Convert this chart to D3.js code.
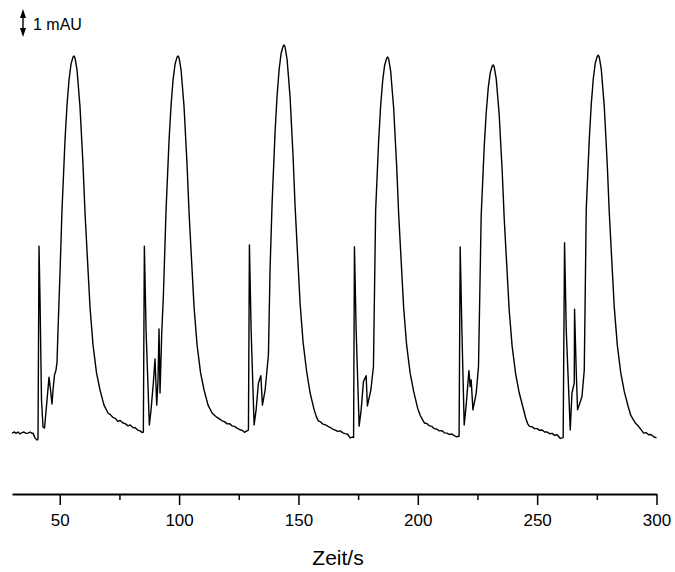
<!DOCTYPE html>
<html>
<head>
<meta charset="utf-8">
<script src="https://cdn.jsdelivr.net/npm/d3@7"></script>
<style>
  body { margin: 0; background: #fff; }
  svg text { font-family: "Liberation Sans", Arial, sans-serif; fill: #000; }
</style>
</head>
<body>
<div class="chart"></div>
<script>
const W = 675, H = 572;

// x axis ticks (s)
const major_ticks = [50, 100, 150, 200, 250, 300];
const minor_ticks = [75, 125, 175, 225, 275];

// detector signal, [time in s, absorbance in mAU], one array per injection
const run1 = [
  [30.0, -0.04], [31.0, 0.0], [31.7, -0.05], [32.5, 0.0], [33.4, -0.07], [34.2, -0.02], [35.0, 0.0],
  [35.9, -0.05], [36.7, -0.04], [37.6, 0.0], [38.4, -0.05], [38.8, -0.04], [39.6, -0.21], [40.5, -0.29],
  [40.9, -0.25], [41.32, 6.64], [41.74, 4.71], [42.36, 1.14], [42.99, 0.18], [43.62, 0.14], [44.67, 1.14],
  [45.51, 1.96], [46.14, 1.5], [46.76, 1.0], [47.18, 1.5], [47.81, 2.04], [48.44, 2.21], [48.86, 2.5],
  [49.28, 3.64], [50.11, 5.68], [50.95, 7.93], [52.21, 10.43], [53.05, 11.68], [53.88, 12.57],
  [54.72, 13.14], [55.56, 13.39], [55.98, 13.43], [56.40, 13.36], [57.24, 12.93], [58.49, 11.61],
  [59.75, 9.54], [60.59, 7.82], [61.85, 5.79], [62.68, 4.46], [63.94, 3.11], [65.41, 2.11], [66.87, 1.5],
  [68.55, 0.96], [70.23, 0.68], [71.2, 0.62], [72.3, 0.52], [73.2, 0.49], [74.3, 0.38], [75.3, 0.41],
  [76.5, 0.32], [77.4, 0.3], [78.6, 0.22], [79.5, 0.25], [80.7, 0.16], [81.6, 0.15], [82.8, 0.06],
  [83.7, 0.04], [84.5, -0.02], [85.03, 0.0]
];
const run2 = [
  [85.45, 6.64], [86.16, 3.64], [87.54, 0.25], [88.25, 0.79], [89.21, 1.75], [89.92, 2.61], [90.63, 0.96],
  [91.17, 1.86], [91.59, 3.68], [92.01, 1.39], [92.73, 3.54], [93.40, 4.82], [94.54, 7.93], [95.80, 10.43],
  [96.64, 11.68], [97.47, 12.57], [98.31, 13.14], [99.15, 13.39], [99.57, 13.43], [99.99, 13.36],
  [100.83, 12.93], [102.08, 11.61], [103.34, 9.54], [104.18, 7.82], [105.44, 5.79], [106.27, 4.46],
  [107.53, 3.11], [109.00, 2.11], [110.46, 1.5], [112.14, 0.96], [113.82, 0.68], [114.8, 0.6],
  [115.9, 0.52], [116.9, 0.47], [118.0, 0.4], [119.0, 0.37], [120.1, 0.29], [121.1, 0.3], [122.2, 0.22],
  [123.2, 0.2], [124.3, 0.14], [125.3, 0.09], [126.4, 0.06], [127.4, -0.01], [128.2, 0.03], [129.05, 0.07]
];
const run3 = [
  [129.46, 6.68], [130.17, 3.64], [131.43, 0.25], [132.27, 0.79], [133.23, 1.75], [134.24, 2.01],
  [134.91, 0.96], [136.04, 1.5], [137.42, 2.75], [138.12, 5.85], [138.96, 8.16], [140.22, 10.73],
  [141.06, 12.02], [141.89, 12.93], [142.73, 13.52], [143.57, 13.78], [143.99, 13.82], [144.41, 13.75],
  [145.25, 13.30], [146.50, 11.95], [147.76, 9.82], [148.60, 8.05], [149.86, 5.96], [150.69, 4.59],
  [151.95, 3.2], [153.42, 2.17], [154.88, 1.4], [156.56, 0.8], [157.5, 0.55], [158.3, 0.4], [159.3, 0.36],
  [160.3, 0.28], [161.3, 0.26], [162.4, 0.2], [163.4, 0.16], [164.4, 0.1], [165.4, 0.07], [166.5, 0.02],
  [167.5, 0.04], [168.6, -0.03], [169.6, -0.06], [170.6, -0.08], [171.66, -0.21], [172.6, -0.18], [173.1, -0.2]
];
const run4 = [
  [173.46, 6.62], [174.17, 3.64], [175.43, 0.21], [176.27, 0.79], [177.23, 1.8], [178.36, 2.01],
  [178.90, 0.93], [180.33, 1.5], [181.42, 2.33], [182.34, 7.9], [183.60, 10.4], [184.44, 11.65],
  [185.27, 12.53], [186.11, 13.1], [186.95, 13.35], [187.37, 13.39], [187.79, 13.32], [188.63, 12.89],
  [189.88, 11.58], [191.14, 9.51], [191.98, 7.8], [193.24, 5.77], [194.07, 4.45], [195.33, 3.1],
  [196.80, 2.1], [198.26, 1.45], [199.94, 0.85], [201.0, 0.6], [201.9, 0.45], [202.8, 0.32], [203.8, 0.3],
  [204.8, 0.22], [205.9, 0.2], [206.9, 0.12], [208.0, 0.1], [209.0, 0.04], [210.1, 0.05], [211.1, -0.03],
  [212.2, -0.04], [213.2, -0.09], [214.3, -0.07], [214.95, -0.11], [216.09, -0.17], [217.3, -0.15]
];
const run5 = [
  [217.76, 6.61], [218.47, 3.64], [219.44, 0.25], [220.27, 0.96], [221.41, 2.19], [221.95, 1.62],
  [222.37, 1.86], [223.09, 0.79], [224.47, 1.39], [225.43, 2.33], [226.56, 7.74], [227.82, 10.18],
  [228.66, 11.4], [229.49, 12.27], [230.33, 12.82], [231.17, 13.07], [231.59, 13.11], [232.01, 13.04],
  [232.85, 12.62], [234.10, 11.33], [235.36, 9.31], [236.20, 7.63], [237.46, 5.65], [238.29, 4.35],
  [239.55, 3.04], [241.02, 2.06], [242.48, 1.4], [244.16, 0.85], [245.2, 0.5], [246.0, 0.3], [246.8, 0.2],
  [247.9, 0.19], [248.9, 0.12], [250.0, 0.12], [251.0, 0.06], [252.1, 0.07], [253.1, 0.0], [254.2, 0.0],
  [255.2, -0.06], [256.3, -0.05], [257.3, -0.12], [258.4, -0.1], [259.7, -0.23], [260.9, -0.2]
];
const run6 = [
  [261.48, 6.76], [262.19, 3.64], [263.87, 0.07], [264.58, 1.39], [265.54, 1.75], [265.67, 4.39],
  [266.38, 2.15], [266.93, 0.79], [268.77, 1.26], [269.74, 2.21], [270.57, 7.95], [271.83, 10.45],
  [272.67, 11.7], [273.50, 12.6], [274.34, 13.17], [275.18, 13.42], [275.60, 13.46], [276.02, 13.39],
  [276.86, 12.96], [278.11, 11.64], [279.37, 9.56], [280.21, 7.84], [281.47, 5.8], [282.30, 4.47],
  [283.56, 3.12], [285.03, 2.11], [286.49, 1.45], [288.17, 0.9], [289.2, 0.6], [290.2, 0.45],
  [291.3, 0.3], [292.3, 0.22], [293.4, 0.1], [294.6, -0.04], [295.6, -0.02], [296.7, -0.1],
  [297.7, -0.09], [298.8, -0.17], [300.0, -0.21]
];

const signal = run1.concat(run2, run3, run4, run5, run6);

const svg = d3.select('.chart')
    .append('svg')
    .attr('width', W)
    .attr('height', H);

// 1 mAU = 28 px
const x_scale = d3.scaleLinear().domain([30, 300]).range([12, 656.5]);
const y_scale = d3.scaleLinear().domain([0, 1]).range([432, 404]);

const axis_y = 494;

// minor ticks first, then major axis
svg.append("g")
    .attr("transform", "translate(0," + axis_y + ")")
    .call(d3.axisBottom(x_scale)
        .tickValues(minor_ticks)
        .tickSize(6)
        .tickFormat(""))
    .call(g => g.select(".domain").remove());

const x_axis = svg.append("g")
    .attr("class", "x_axis")
    .attr("transform", "translate(0," + axis_y + ")")
    .call(d3.axisBottom(x_scale)
        .tickValues(major_ticks)
        .tickSize(11)
        .tickSizeOuter(0)
        .tickPadding(9)
        .tickFormat(d3.format("d")));

x_axis.selectAll("text")
    .style("font-size", "17px");

svg.selectAll(".tick line").attr("stroke-width", 1.5);
x_axis.select(".domain").attr("stroke-width", 1.8);

svg.append("text")
    .attr("x", 338)
    .attr("y", 565)
    .attr("text-anchor", "middle")
    .style("font-size", "21px")
    .text("Zeit/s");

// trace
const line = d3.line()
    .x(d => x_scale(d[0]))
    .y(d => y_scale(d[1]));

svg.append("path")
    .datum(signal)
    .attr("fill", "none")
    .attr("stroke", "#000")
    .attr("stroke-width", 1.4)
    .attr("stroke-linejoin", "round")
    .attr("d", line);

// scale bar: 1 mAU
const bar_x = 23;
const bar_top = 9;
const bar_bot = bar_top + (y_scale(0) - y_scale(1));

svg.append("line")
    .attr("x1", bar_x).attr("x2", bar_x)
    .attr("y1", bar_top + 4).attr("y2", bar_bot - 4)
    .attr("stroke", "#000")
    .attr("stroke-width", 1.4);

svg.append("path")
    .attr("d", `M${bar_x},${bar_top} L${bar_x - 3},${bar_top + 9} L${bar_x + 3},${bar_top + 9} Z`)
    .attr("fill", "#000");
svg.append("path")
    .attr("d", `M${bar_x},${bar_bot} L${bar_x - 3},${bar_bot - 9} L${bar_x + 3},${bar_bot - 9} Z`)
    .attr("fill", "#000");

svg.append("text")
    .attr("x", 33)
    .attr("y", 30)
    .style("font-size", "16px")
    .text("1 mAU");
</script>
</body>
</html>
